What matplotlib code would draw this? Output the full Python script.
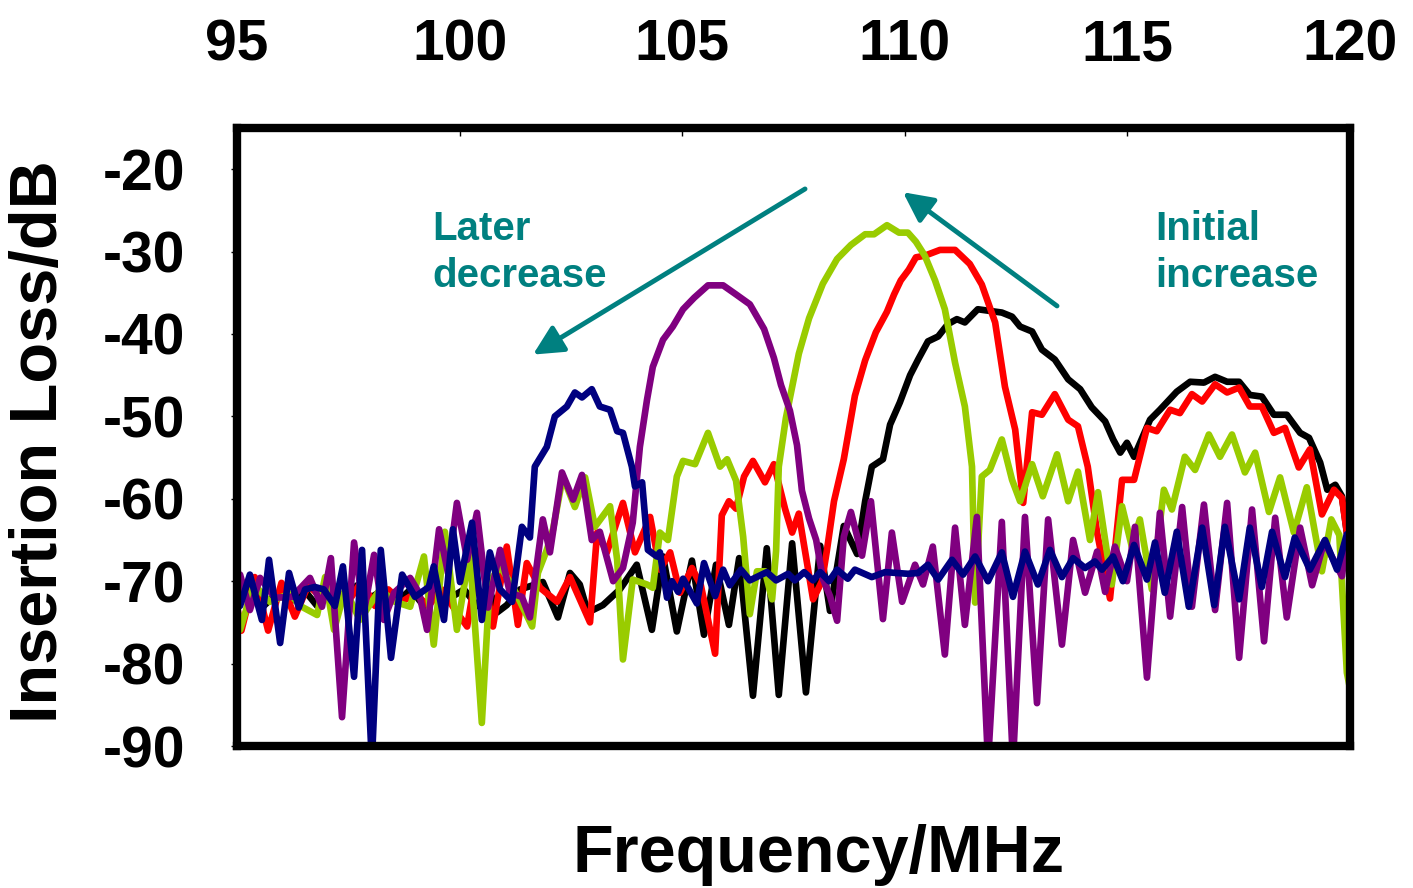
import numpy as np
import matplotlib
matplotlib.use("Agg")
import matplotlib.pyplot as plt

black_f = [95.0, 95.3, 95.6, 95.9, 96.2, 96.5, 96.8, 97.1, 97.4, 97.7, 98.0, 98.3, 98.6, 98.9,
           99.2, 99.5, 99.8, 100.1, 100.4, 100.7, 100.84, 101.06, 101.36, 101.87, 102.21, 102.48,
           102.70, 102.88, 103.22, 103.60, 103.98, 104.32, 104.57, 104.88, 105.22, 105.49, 105.76,
           106.05, 106.28, 106.59, 106.90, 107.17, 107.47, 107.78, 108.10, 108.32, 108.63, 108.93,
           109.11, 109.26, 109.51, 109.67, 109.89, 110.12, 110.30, 110.52, 110.75, 110.97, 111.17,
           111.35, 111.64, 111.91, 112.18, 112.41, 112.59, 112.86, 113.08, 113.37, 113.67, 113.94,
           114.20, 114.50, 114.68, 114.84, 114.99, 115.15, 115.51, 115.73, 116.11, 116.41, 116.72,
           116.97, 117.24, 117.51, 117.75, 118.02, 118.29, 118.58, 118.88, 119.08, 119.33, 119.49,
           119.67, 119.82, 119.93, 120.0]
black_db = [-72, -71, -73, -71.5, -72.5, -71, -73, -71.5, -72, -70.5, -72, -71, -72.5, -71,
            -73, -71, -72, -71, -73, -71.5, -73.8, -72.9, -71, -70.1, -74.4, -69,
            -70.4, -73.8, -72.9, -71, -68, -75.9, -67, -76.1, -67.5, -76.5, -68,
            -75.3, -67.2, -83.9, -66, -83.8, -65.4, -83.5, -65.7, -73.6, -63.3, -66.7,
            -60.3, -56.1, -55.2, -51, -48.3, -45, -43.1, -40.9, -40.3, -38.8, -38.2,
            -38.6, -37, -37.2, -37.4, -37.9, -39.1, -39.7, -41.9, -43.1, -45.5, -46.7,
            -48.9, -50.6, -52.8, -54.4, -53.2, -54.9, -50.4, -49.2, -47, -45.8, -45.9,
            -45.2, -45.8, -45.8, -47.4, -47.6, -49.8, -49.8, -52, -52.6, -55.6, -58.9,
            -58.3, -59.7, -64.1, -66]

red_f = [95.0, 95.1, 95.4, 95.7, 96.0, 96.3, 96.6, 96.9, 97.2, 97.5, 97.8, 98.1, 98.4, 98.7,
         99.0, 99.3, 99.6, 99.9, 100.17, 100.46, 100.75, 101.06, 101.31, 101.51, 101.81, 102.19,
         102.48, 102.93, 103.09, 103.31, 103.67, 103.94, 104.28, 104.50, 104.73, 104.95, 105.22,
         105.42, 105.74, 105.89, 106.05, 106.21, 106.39, 106.59, 106.86, 107.06, 107.31, 107.47,
         107.62, 107.94, 108.14, 108.25, 108.41, 108.63, 108.88, 109.11, 109.35, 109.60, 109.76,
         109.91, 110.09, 110.25, 110.45, 110.79, 111.13, 111.46, 111.73, 112.03, 112.25, 112.48,
         112.66, 112.86, 113.08, 113.37, 113.67, 113.89, 114.11, 114.32, 114.61, 114.88, 115.15,
         115.44, 115.66, 115.96, 116.18, 116.45, 116.68, 116.97, 117.24, 117.51, 117.75, 118.02,
         118.29, 118.54, 118.85, 119.10, 119.37, 119.64, 119.82, 119.93, 120.0]
red_db = [-73, -76, -69.5, -76, -70.2, -74.3, -70.5, -72, -71, -72.5, -70, -73, -71, -72.5,
          -71.5, -73, -71, -73.5, -75.5, -66.2, -75.5, -65.8, -75.3, -67.8, -70.8, -72.5,
          -69.5, -75, -64.1, -66.5, -60.5, -66.5, -62.2, -68.6, -66.5, -71.4, -68.4,
          -70.5, -78.8, -62, -60.3, -61.2, -57.3, -55.4, -58, -55.8, -61.2, -64.1,
          -61.8, -72.2, -70, -66.3, -60.3, -55.2, -47.5, -43.2, -39.8, -37.3, -35.2,
          -33.5, -32.2, -30.7, -30.5, -29.8, -29.8, -31.5, -34, -38.6, -46.4, -51.6,
          -60.5, -49.5, -49.8, -47.3, -50.4, -51.2, -56.1, -64.1, -72.1, -57.7, -57.7,
          -51.4, -51.8, -49.2, -49.6, -47.3, -48.2, -46.1, -47.1, -46.5, -48.8, -48.8,
          -52, -51.4, -56.2, -54, -61.9, -58.9, -59.9, -64.1, -66]

green_f = [95.0, 95.07, 95.38, 95.74, 96.19, 96.42, 96.80, 96.98, 97.18, 97.43, 97.76, 98.21,
           98.55, 98.89, 99.20, 99.42, 99.67, 99.94, 100.23, 100.50, 100.68, 100.91, 101.20,
           101.63, 101.76, 101.96, 102.10, 102.32, 102.59, 102.82, 103.04, 103.38, 103.54, 103.67,
           103.89, 104.21, 104.34, 104.50, 104.68, 104.88, 105.02, 105.29, 105.58, 105.85, 106.01,
           106.21, 106.37, 106.52, 106.68, 106.86, 107.02, 107.11, 107.17, 107.33, 107.62, 107.85,
           108.16, 108.48, 108.79, 109.11, 109.31, 109.60, 109.87, 110.07, 110.25, 110.45, 110.68,
           110.90, 111.13, 111.35, 111.51, 111.58, 111.73, 111.91, 112.18, 112.41, 112.59, 112.86,
           113.10, 113.42, 113.67, 113.89, 114.16, 114.34, 114.65, 114.88, 115.10, 115.28, 115.55,
           115.82, 116.00, 116.29, 116.52, 116.83, 117.08, 117.35, 117.64, 117.87, 118.18, 118.43,
           118.74, 119.03, 119.37, 119.58, 119.76, 119.93, 120.0]
green_db = [-73, -75.9, -70.4, -72.5, -71.5, -73, -74.1, -69.5, -75.9, -71, -74.7, -71,
            -72.5, -73.1, -67, -77.7, -64, -75.9, -66.5, -87.2, -70, -68.2, -70.7,
            -75.5, -69, -66.2, -63.7, -57.3, -61, -57.4, -63.4, -60.9, -67.4, -79.5,
            -69.8, -70.4, -70.8, -64.1, -65, -57.3, -55.4, -55.8, -52, -56.1, -55.2,
            -57.8, -64.6, -74, -68.8, -68.8, -72.2, -66.3, -56.1, -50.2, -42.4, -38.1,
            -33.9, -30.9, -29.2, -27.9, -27.9, -26.8, -27.7, -27.7, -28.8, -30.5, -33.5,
            -37, -43.5, -48.8, -56.1, -72.6, -57.3, -56.5, -52.8, -57.7, -60.3, -55.8,
            -59.7, -54.6, -60.3, -56.7, -65, -59.2, -70.4, -60.9, -65.8, -62.5, -71,
            -58.9, -61.3, -54.9, -56.5, -52.2, -54.9, -52.2, -56.8, -54.4, -61.6, -57.4,
            -64.1, -58.6, -68.8, -62.5, -64.4, -81.1, -83]

purple_f = [95.0, 95.07, 95.29, 95.52, 95.85, 96.24, 96.64, 96.91, 97.11, 97.36, 97.63, 97.85,
            98.08, 98.30, 98.53, 98.89, 99.09, 99.27, 99.54, 99.74, 99.94, 100.17, 100.39, 100.64,
            100.91, 101.13, 101.40, 101.58, 101.87, 102.03, 102.30, 102.55, 102.75, 102.97, 103.15,
            103.45, 103.67, 103.89, 104.05, 104.21, 104.34, 104.57, 104.79, 105.02, 105.27, 105.58,
            105.92, 106.21, 106.52, 106.84, 107.06, 107.22, 107.42, 107.58, 107.69, 107.85, 108.01,
            108.16, 108.32, 108.48, 108.63, 108.79, 109.04, 109.24, 109.51, 109.71, 109.94, 110.23,
            110.41, 110.63, 110.90, 111.13, 111.35, 111.62, 111.87, 112.18, 112.43, 112.70, 112.97,
            113.22, 113.53, 113.78, 114.05, 114.32, 114.50, 114.72, 114.99, 115.17, 115.44, 115.73,
            115.96, 116.23, 116.45, 116.72, 116.97, 117.24, 117.51, 117.80, 118.07, 118.32, 118.58,
            118.88, 119.15, 119.42, 119.82, 119.93, 120.0]
purple_db = [-73, -69.2, -73.5, -69.6, -72, -71.9, -69.6, -73.1, -67.2, -86.5, -65.3, -73.8,
             -66.8, -74.7, -71.4, -69.6, -71.4, -75.9, -63.7, -69, -60.5, -67.4, -61.7, -73.2,
             -66.2, -71.4, -71.9, -74.4, -62.5, -66.5, -56.8, -60.1, -57.1, -65, -64,
             -70, -68.4, -62.9, -53.7, -48, -44, -40.7, -39.1, -37, -35.6, -34.1,
             -34.1, -35.2, -36.4, -39.4, -42.9, -46.2, -49.3, -53.5, -59, -62.4, -65,
             -69.7, -71.8, -74.8, -64.6, -61.6, -66.9, -60.3, -74.6, -64.1, -72.5, -68,
             -70.4, -65.8, -78.9, -63.5, -75.3, -62.2, -92, -62.8, -92, -62.2, -84.8,
             -62.5, -77.7, -65, -71.4, -66.4, -71.3, -65.8, -70, -63.4, -81.7, -61.7,
             -74.3, -61, -73.1, -60.7, -73.5, -60.5, -79.3, -61.3, -77.3, -62.3, -74.4,
             -63.5, -70.5, -65.2, -69.4, -64.6, -68]

navy_f = [95.0, 95.07, 95.29, 95.56, 95.72, 95.97, 96.17, 96.39, 96.53, 96.75, 96.95, 97.20,
          97.38, 97.63, 97.81, 98.03, 98.23, 98.46, 98.71, 99.00, 99.31, 99.42, 99.65, 99.85,
          100.01, 100.28, 100.50, 100.68, 100.91, 101.18, 101.40, 101.58, 101.69, 101.96, 102.14,
          102.41, 102.59, 102.75, 102.97, 103.15, 103.38, 103.54, 103.67, 103.87, 103.94, 104.10,
          104.23, 104.43, 104.50, 104.66, 104.77, 104.91, 105.02, 105.33, 105.49, 105.74, 105.92,
          106.07, 106.32, 106.52, 106.90, 107.11, 107.38, 107.53, 107.74, 107.94, 108.10, 108.30,
          108.48, 108.72, 108.88, 109.26, 109.56, 110.07, 110.30, 110.52, 110.75, 111.06, 111.31,
          111.58, 111.87, 112.18, 112.43, 112.70, 112.99, 113.26, 113.53, 113.78, 114.05, 114.27,
          114.43, 114.68, 114.90, 115.15, 115.44, 115.62, 115.84, 116.11, 116.38, 116.68, 116.95,
          117.19, 117.51, 117.75, 118.02, 118.25, 118.54, 118.76, 119.10, 119.44, 119.71, 119.93,
          120.0]
navy_db = [-71, -73, -69.2, -74.7, -67.4, -77.5, -69, -73.2, -71, -70.7, -71, -73,
           -68.2, -81.6, -66.2, -92, -66.2, -79.3, -69.2, -71.9, -70.7, -68.2, -74.7, -63.7,
           -70.1, -62.9, -74.7, -66.5, -71, -72.5, -63.4, -64.7, -56.1, -53.7, -50,
           -48.8, -47.1, -47.7, -46.7, -48.8, -49.2, -51.8, -52, -56.1, -58.5, -58,
           -66.2, -67, -66.5, -72, -70, -71.3, -69.7, -72.7, -67.8, -71.8, -68.6,
           -70.5, -68.6, -69.9, -68.9, -69.9, -69.1, -69.9, -68.9, -69.9, -68.9, -70,
           -68.6, -69.7, -68.6, -69.5, -68.9, -69.1, -69, -68, -69.8, -67.4, -69.2,
           -67, -70, -66.5, -71.9, -66.4, -70.4, -66.2, -69.5, -67.2, -68.4, -67.6,
           -68.6, -67, -70, -65.6, -69.8, -65.3, -71.4, -64, -73.1, -63.5, -72.9,
           -63.4, -72.2, -63.5, -70.7, -64, -69.5, -64.7, -68.6, -65, -68.6, -64.3,
           -65]

y_ticks = [-20, -30, -40, -50, -60, -70, -80, -90]
x_ticks = [95, 100, 105, 110, 115, 120]
teal = "#008080"

plt.rcParams["font.family"] = ["Liberation Sans", "DejaVu Sans"]
plt.rcParams["font.weight"] = "bold"
plt.rcParams["axes.unicode_minus"] = False

fig = plt.figure(figsize=(14.13, 8.88), dpi=100)
ax = fig.add_axes([0.1677, 0.1599, 0.7877, 0.696])

lw = 4.8
for f, db, c in [
    (black_f, black_db, "#000000"),
    (red_f, red_db, "#FF0000"),
    (green_f, green_db, "#99CC00"),
    (purple_f, purple_db, "#800080"),
    (navy_f, navy_db, "#000080"),
]:
    ax.plot(f, db, color=c, lw=lw, solid_joinstyle="round", solid_capstyle="round")

ax.set_xlim(95, 120)
ax.set_ylim(-90, -15)
ax.set_xticks(x_ticks)
ax.set_yticks(y_ticks)
ax.xaxis.tick_top()
ax.tick_params(axis="x", direction="in", length=6, width=1, pad=40, labelsize=41)
ax.tick_params(axis="y", direction="out", length=4, width=1, pad=33, labelsize=41)
for lab in ax.get_xticklabels() + ax.get_yticklabels():
    lab.set_fontweight("bold")
for sp in ax.spines.values():
    sp.set_linewidth(6)
    sp.set_zorder(5)

# annotations
ax.annotate("", xy=(101.65, -42.5), xytext=(107.76, -22.4),
            arrowprops=dict(arrowstyle="-|>", color=teal, lw=3.5, mutation_scale=45,
                            shrinkA=0, shrinkB=0))
ax.annotate("", xy=(109.96, -22.8), xytext=(113.42, -36.6),
            arrowprops=dict(arrowstyle="-|>", color=teal, lw=3.5, mutation_scale=45,
                            shrinkA=0, shrinkB=0))
ax.text(99.38, -25.0, "Later\ndecrease", color=teal, fontsize=29, fontweight="bold",
        ha="left", va="top", linespacing=1.3)
ax.text(115.62, -25.0, "Initial\nincrease", color=teal, fontsize=29, fontweight="bold",
        ha="left", va="top", linespacing=1.3)

fig.text(0.579, 0.018, "Frequency/MHz", fontsize=48, fontweight="bold",
         ha="center", va="baseline")
fig.text(0.028, 0.503, "Insertion Loss/dB", fontsize=48, fontweight="bold",
         ha="center", va="center", rotation=90)

fig.savefig("out.png", dpi=100)
